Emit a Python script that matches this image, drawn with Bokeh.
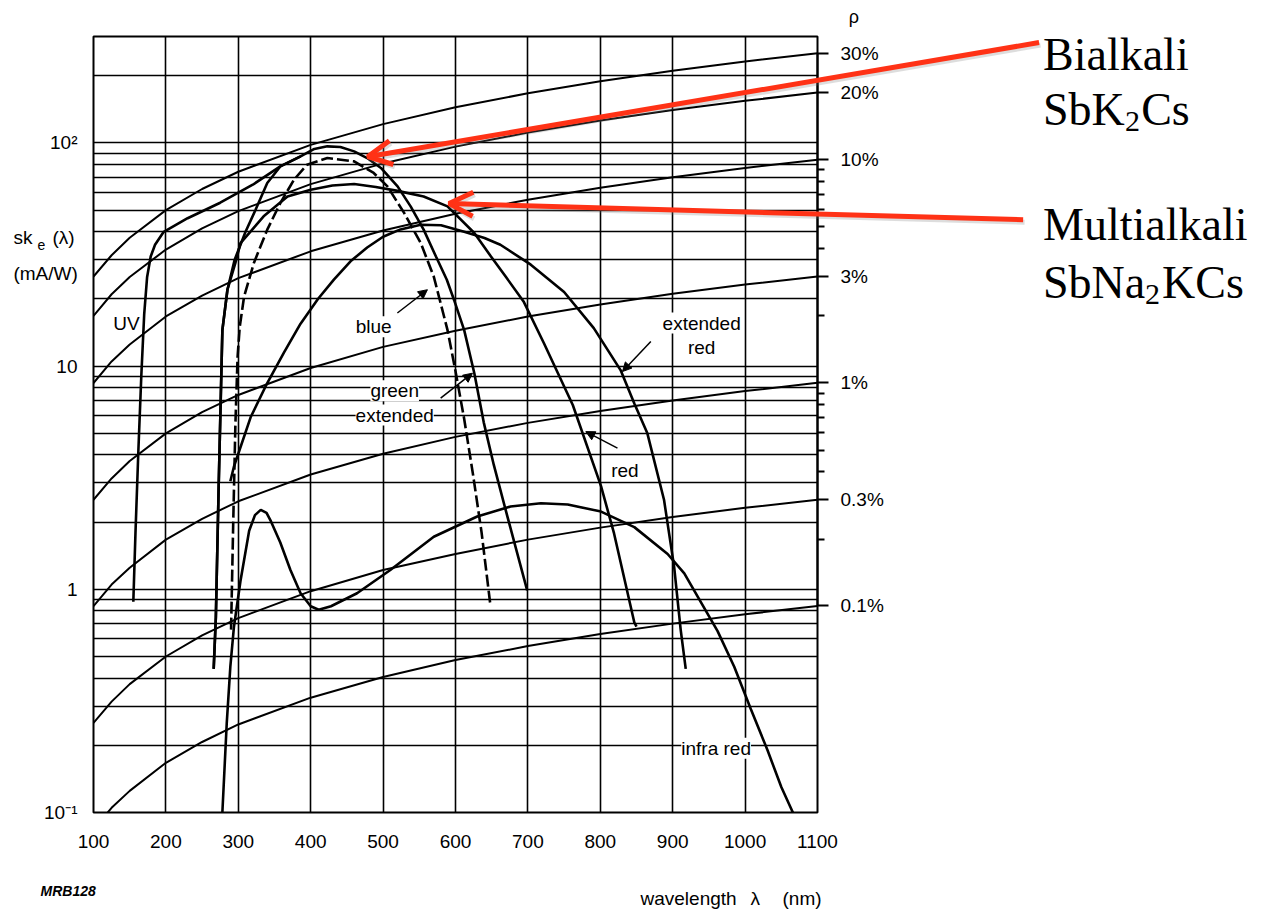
import math
from bokeh.plotting import figure
from bokeh.models import (Range1d, FixedTicker, LogAxis, CustomJSTickFormatter,
                          Label, Arrow, NormalHead, OpenHead, GridBox)
from bokeh.embed import file_html
from bokeh.resources import INLINE

# ---------------- data ----------------
x_ticks = [100, 200, 300, 400, 500, 600, 700, 800, 900, 1000, 1100]
y_major = [0.1, 1, 10, 100]
y_minor = [0.2, 0.3, 0.4, 0.5, 0.6, 0.7, 0.8, 0.9,
           2, 3, 4, 5, 6, 7, 8, 9,
           20, 30, 40, 50, 60, 70, 80, 90, 200, 300]

# iso quantum-efficiency lines (sensitivity in mA/W)
iso_wl = [100, 125, 150, 200, 250, 300, 400, 500, 600, 700, 800, 900, 1000, 1100]
iso_30 = [25.2, 31.4, 37.6, 50.0, 62.2, 74.3, 98.1, 121.5, 144.5, 167, 189, 210.6, 231.8, 252.5]
iso_20 = [16.8, 21.0, 25.1, 33.3, 41.4, 49.5, 65.4, 81.0, 96.3, 111.3, 126, 140.4, 154.5, 168.3]
iso_10 = [8.4, 10.5, 12.5, 16.7, 20.7, 24.8, 32.7, 40.5, 48.2, 55.7, 63.0, 70.2, 77.3, 84.2]
iso_3 = [2.52, 3.14, 3.76, 5.0, 6.22, 7.43, 9.81, 12.2, 14.4, 16.7, 18.9, 21.1, 23.2, 25.2]
iso_1 = [0.84, 1.05, 1.25, 1.67, 2.07, 2.48, 3.27, 4.05, 4.82, 5.57, 6.30, 7.02, 7.73, 8.42]
iso_03 = [0.252, 0.314, 0.376, 0.50, 0.622, 0.743, 0.981, 1.22, 1.44, 1.67, 1.89, 2.11, 2.32, 2.52]
iso_01 = [0.084, 0.105, 0.125, 0.167, 0.207, 0.248, 0.327, 0.405, 0.482, 0.557, 0.630, 0.702, 0.773, 0.842]
iso_lines = [iso_30, iso_20, iso_10, iso_3, iso_1, iso_03, iso_01]
rho_labels = ["30%", "20%", "10%", "3%", "1%", "0.3%", "0.1%"]
rho_minor = [75.7, 67.3, 58.9, 50.5, 42.1, 33.7, 16.8,
             7.57, 6.73, 5.89, 5.05, 4.21, 3.37, 1.68]

# photocathode spectral sensitivity curves
uv_wl = [155, 158, 162, 166, 170, 174, 179, 185, 197, 230, 275, 320, 358, 386]
uv_s = [0.88, 1.8, 4.2, 9.0, 17.0, 25.0, 31.0, 35.0, 40.0, 46.0, 54.0, 65.0, 78.5, 87.1]

green_wl = [266, 269, 273, 278, 285, 295, 310, 324, 340, 358, 386, 405, 423, 441, 460,
            478, 497, 520, 538, 556, 573, 588, 598, 612, 626, 639, 653, 672, 699]
green_s = [0.44, 0.75, 3.0, 14.5, 22, 30, 40, 50.3, 66.2, 78.5, 87.1, 94, 96.6, 96, 91.7,
           85.6, 77.3, 63.9, 52, 40.9, 31, 24.4, 19.8, 14.5, 9.3, 5.6, 3.6, 2.1, 0.99]

blue_wl = [290, 293, 296, 299, 302, 308, 321.5, 340, 358, 377, 395, 423, 460, 487, 506,
           529, 552, 570, 589, 600, 612, 624, 636, 648]
blue_s = [0.66, 2.0, 5.5, 11, 15, 20.5, 29, 40.9, 53.8, 68.5, 79.9, 85.6, 82.7, 73.4, 63.9,
          48.6, 35.6, 25.2, 14.5, 9.5, 5.8, 3.3, 1.8, 0.86]

red_wl = [266, 269, 273, 278, 285, 296, 303, 335, 368, 400, 430, 460, 490, 520, 556, 589,
          626, 649, 670, 694, 722, 762, 801, 819, 847, 850]
red_s = [0.44, 0.75, 3.0, 14.5, 22, 29, 35.6, 46.9, 57.6, 61.7, 64.5, 65.5, 63.5, 61, 57.6, 52,
         39.5, 31, 25, 19.5, 12.7, 6.7, 2.9, 1.78, 0.71, 0.68]

extred_wl = [289, 294, 317, 340, 363, 386, 410, 432, 455, 478, 500, 524, 552, 580, 612, 640,
             662, 704, 750, 791, 828, 847, 865, 888, 902, 911, 918]
extred_s = [3.05, 3.55, 5.9, 8.4, 11.5, 15.5, 20, 24.4, 29.5, 34, 38, 41, 43, 42.8, 40, 37.5,
            35, 28.5, 21.5, 14.8, 9.6, 6.8, 5.0, 2.52, 1.26, 0.66, 0.44]

ir_wl = [278, 284, 289, 294, 303, 315, 323, 331, 339, 345, 358, 372, 386, 400, 411, 428, 464,
         510, 570, 630, 676, 718, 755, 801, 847, 893, 916, 962, 985, 1008, 1031, 1050, 1066]
ir_s = [0.1, 0.25, 0.45, 0.68, 1.09, 1.83, 2.15, 2.27, 2.2, 2.02, 1.62, 1.22, 0.96, 0.84, 0.81,
        0.84, 0.96, 1.22, 1.72, 2.12, 2.35, 2.43, 2.40, 2.23, 1.90, 1.44, 1.18, 0.65, 0.45,
        0.29, 0.19, 0.13, 0.1]

# ---------------- geometry / style ----------------
FONT = "Liberation Sans"
SERIF = "Liberation Serif"
RED = "#ff3216"
X0, X1, Y0, Y1 = 100, 1100, 0.1, 300
FR_L, FR_T, FR_W, FR_H = 93, 36, 724, 776
W, H = 1262, 910

# ---------------- main chart ----------------
p = figure(frame_width=FR_W, frame_height=FR_H,
           x_range=Range1d(X0, X1), y_range=Range1d(Y0, Y1),
           y_axis_type="log", output_backend="svg", toolbar_location=None,
           min_border_left=FR_L, min_border_right=W - FR_L - FR_W,
           min_border_top=FR_T, min_border_bottom=H - FR_T - FR_H,
           background_fill_color="white", border_fill_color="white")
p.frame_align = False
p.outline_line_color = "black"
p.outline_line_width = 2

xa = p.xaxis[0]
xa.ticker = FixedTicker(ticks=x_ticks)
xa.axis_line_color = None
xa.major_tick_line_color = None
xa.minor_tick_line_color = None
xa.major_label_standoff = 16
xa.major_label_text_font = FONT
xa.major_label_text_font_size = "19px"
xa.major_label_text_color = "black"

ya = p.yaxis[0]
ya.ticker = FixedTicker(ticks=y_major, minor_ticks=y_minor)
ya.formatter = CustomJSTickFormatter(code="""
const e = Math.round(Math.log10(tick));
const m = {"2": "10\u00b2", "1": "10", "0": "1", "-1": "10\u207b\u00b9"};
return m[String(e)] || "";
""")
ya.axis_line_color = None
ya.major_tick_line_color = None
ya.minor_tick_line_color = None
ya.major_label_standoff = 10
ya.major_label_text_font = FONT
ya.major_label_text_font_size = "19px"
ya.major_label_text_color = "black"

p.xgrid.grid_line_color = "black"
p.xgrid.grid_line_width = 1.6
p.ygrid.grid_line_color = "black"
p.ygrid.grid_line_width = 1.6
p.ygrid.minor_grid_line_color = "black"
p.ygrid.minor_grid_line_width = 1.6

rho_major = [line[-1] for line in iso_lines]
rax = LogAxis(
    ticker=FixedTicker(ticks=rho_major, minor_ticks=rho_minor),
    formatter=CustomJSTickFormatter(args=dict(qt=rho_major, ql=rho_labels), code="""
for (let i = 0; i < qt.length; i++) {
  if (Math.abs(qt[i] - tick) < 1e-6 * qt[i]) return ql[i];
}
return "";
"""),
    bounds=(rho_major[-1], rho_major[0]),
    axis_line_width=2, major_tick_in=0, major_tick_out=11, minor_tick_in=0, minor_tick_out=7,
    major_tick_line_width=2, minor_tick_line_width=2,
    major_label_standoff=12, major_label_text_font=FONT, major_label_text_font_size="19px",
    major_label_text_color="black")
p.add_layout(rax, "right")

for line in iso_lines:
    p.line(iso_wl, line, line_color="black", line_width=2)

p.line(uv_wl, uv_s, line_color="black", line_width=2.6)
p.line(green_wl, green_s, line_color="black", line_width=2.6)
p.line(blue_wl, blue_s, line_color="black", line_width=2.6, line_dash="12 4")
p.line(red_wl, red_s, line_color="black", line_width=2.6)
p.line(extred_wl, extred_s, line_color="black", line_width=2.6)
p.line(ir_wl, ir_s, line_color="black", line_width=2.6)


def lab(fig, x, y, t, size="19px", align="center", baseline="middle", bg="white",
        font=FONT, style="normal"):
    fig.add_layout(Label(x=x, y=y, text=t, text_font=font, text_font_size=size,
                         text_align=align, text_baseline=baseline, text_color="black",
                         text_font_style=style, background_fill_color=bg))


lab(p, 145.6, 15.6, "UV")
lab(p, 487, 15.0, "blue")
lab(p, 516, 7.75, "green")
lab(p, 516, 6.04, "extended")
lab(p, 940, 15.6, "extended")
lab(p, 940, 12.1, "red")
lab(p, 834, 3.4, "red")
lab(p, 960, 0.194, "infra red")

for xs, ys, xe, ye in [(519.7, 17.3, 561.2, 22.0),
                       (579.5, 7.19, 623.4, 9.30),
                       (869.8, 12.9, 830.6, 9.46),
                       (823.7, 4.29, 780.0, 5.09)]:
    p.add_layout(Arrow(end=NormalHead(size=9, fill_color="black", line_color="black"),
                       x_start=xs, y_start=ys, x_end=xe, y_end=ye,
                       line_color="black", line_width=1.5))

# ---------------- transparent overlay covering the whole canvas ----------------
# same wavelength / sensitivity mapping as the main frame, extended to the canvas edges
px_nm = FR_W / (X1 - X0)
px_dec = FR_H / (math.log10(Y1) - math.log10(Y0))
ox0 = X0 - FR_L / px_nm
ox1 = X0 + (W - FR_L) / px_nm
oy1 = 10 ** (math.log10(Y1) + FR_T / px_dec)
oy0 = 10 ** (math.log10(Y0) - (H - FR_T - FR_H) / px_dec)

q = figure(frame_width=W, frame_height=H, x_range=Range1d(ox0, ox1), y_range=Range1d(oy0, oy1),
           y_axis_type="log", x_axis_location=None, y_axis_location=None,
           min_border=0, toolbar_location=None, output_backend="svg",
           background_fill_alpha=0, border_fill_alpha=0, outline_line_color=None)
q.frame_align = False
q.grid.visible = False

# axis titles
lab(q, -10.6, 37.6, "sk", baseline="alphabetic", align="left", bg=None)
lab(q, 22.6, 35.0, "e", size="14px", baseline="alphabetic", align="left", bg=None)
lab(q, 43.3, 37.6, "(\u03bb)", baseline="alphabetic", align="left", bg=None)
lab(q, -10.6, 25.9, "(mA/W)", baseline="alphabetic", align="left", bg=None)
lab(q, 1150.3, 368.0, "\u03c1", size="18px", bg=None)
lab(q, 855.5, 0.0413, "wavelength", align="left", bg=None)
lab(q, 1007.5, 0.0413, "\u03bb", align="left", bg=None)
lab(q, 1051.7, 0.0413, "(nm)", align="left", bg=None)
lab(q, 26.8, 0.0443, "MRB128", size="14px", align="left", bg=None, style="bold italic")

# red annotation arrows (with a soft shadow)
for (xs, ys, xe, ye) in [(1406, 281.8, 478.7, 86.8), (1384, 45.3, 591, 53.5)]:
    q.add_layout(Arrow(end=OpenHead(size=24, line_color="#777777", line_width=5, line_alpha=0.25),
                       x_start=xs + 2, y_start=ys * 0.975, x_end=xe + 2, y_end=ye * 0.975,
                       line_color="#777777", line_alpha=0.25, line_width=5))
    q.add_layout(Arrow(end=OpenHead(size=24, line_color=RED, line_width=5),
                       x_start=xs, y_start=ys, x_end=xe, y_end=ye,
                       line_color=RED, line_width=5))

# annotation texts (serif, with subscripts)
lab(q, 1411.5, 248.9, "Bialkali", size="46px", align="left", baseline="alphabetic", bg=None, font=SERIF)
lab(q, 1411.5, 141.0, "SbK", size="46px", align="left", baseline="alphabetic", bg=None, font=SERIF)
lab(q, 1524.8, 124.6, "2", size="30px", align="left", baseline="alphabetic", bg=None, font=SERIF)
lab(q, 1547.0, 141.0, "Cs", size="46px", align="left", baseline="alphabetic", bg=None, font=SERIF)
lab(q, 1411.5, 43.0, "Multialkali", size="46px", align="left", baseline="alphabetic", bg=None, font=SERIF)
lab(q, 1411.5, 23.6, "SbNa", size="46px", align="left", baseline="alphabetic", bg=None, font=SERIF)
lab(q, 1552.5, 20.9, "2", size="30px", align="left", baseline="alphabetic", bg=None, font=SERIF)
lab(q, 1576.0, 23.6, "KCs", size="46px", align="left", baseline="alphabetic", bg=None, font=SERIF)

layout = GridBox(children=[(p, 0, 0), (q, 0, 0)])
open("out.html", "w").write(file_html(layout, INLINE))
